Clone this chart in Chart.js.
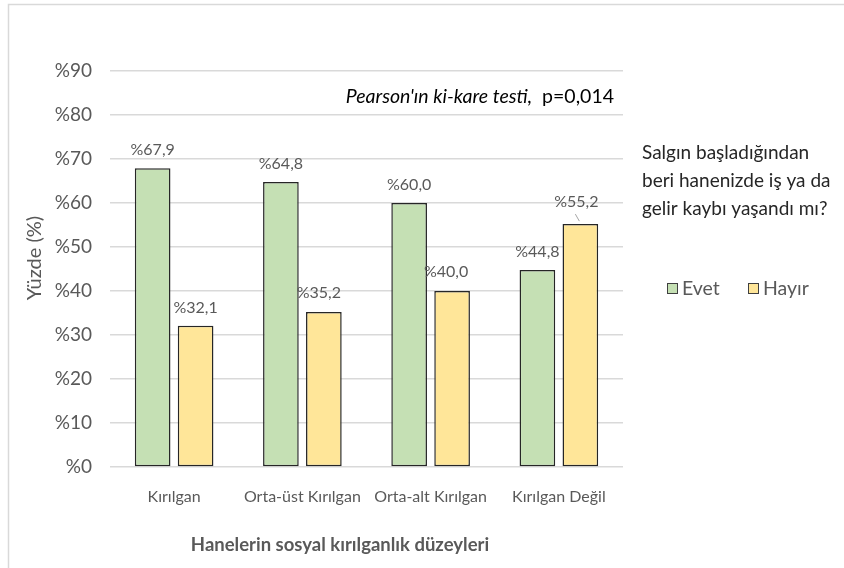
<!DOCTYPE html>
<html><head><meta charset="utf-8">
<script src="https://cdn.jsdelivr.net/npm/chart.js@4.4.1/dist/chart.umd.min.js"></script>
<style>html,body{margin:0;padding:0;background:#fff;}#wrap{width:844px;height:568px;position:relative;}</style>
</head><body><div id="wrap"><canvas id="c" width="844" height="568"></canvas></div>
<script>
const categories = ['Kırılgan', 'Orta-üst Kırılgan', 'Orta-alt Kırılgan', 'Kırılgan Değil'];
const seriesNames = ['Evet', 'Hayır'];
const evetValues = [67.9, 64.8, 60.0, 44.8];
const hayirValues = [32.1, 35.2, 40.0, 55.2];
const yMin = 0, yMax = 90, yStep = 10;
const yAxisTitle = 'Yüzde (%)';
const xAxisTitle = 'Hanelerin sosyal kırılganlık düzeyleri';
const legendTitle = ['Salgın başladığından', 'beri hanenizde iş ya da', 'gelir kaybı yaşandı mı?'];
const noteItalic = "Pearson'ın ki-kare testi,";
const noteText = 'p=0,014';

const FONT = "Lato, 'Open Sans', sans-serif";
const colors = ['#c5e0b4', '#ffe699'];
const fmt = v => '%' + v.toFixed(1).replace('.', ',');

const labelStyle = {
  dx: [[0, 0, 0, 0], [0, -5, -6, -4]],
  dy: [[18, 18, 18, 18], [18, 19, 19, 22]],
  leader: [[false, false, false, false], [false, false, false, true]]
};

const decor = {
  id: 'decor',
  beforeDraw(chart) {
    const ctx = chart.ctx;
    ctx.save();
    ctx.fillStyle = '#fff';
    ctx.fillRect(0, 0, chart.width, chart.height);
    ctx.strokeStyle = '#d9d9d9';
    ctx.lineWidth = 1.5;
    ctx.beginPath();
    ctx.moveTo(8.5, chart.height);
    ctx.lineTo(8.5, 4.5);
    ctx.lineTo(chart.width, 4.5);
    ctx.stroke();
    ctx.restore();
  },
  afterDraw(chart) {
    const ctx = chart.ctx;
    ctx.save();
    // data labels
    ctx.font = '16px ' + FONT;
    ctx.fillStyle = '#595959';
    ctx.textAlign = 'center';
    ctx.textBaseline = 'middle';
    chart.data.datasets.forEach((ds, d) => {
      const meta = chart.getDatasetMeta(d);
      meta.data.forEach((el, i) => {
        const x = el.x + labelStyle.dx[d][i];
        const y = el.y - labelStyle.dy[d][i];
        ctx.fillText(fmt(ds.data[i]), x, y);
        if (labelStyle.leader[d][i]) {
          ctx.save();
          ctx.strokeStyle = '#a6a6a6';
          ctx.lineWidth = 1;
          ctx.beginPath();
          ctx.moveTo(el.x - 1, el.y - 3);
          ctx.lineTo(el.x - 5, el.y - 10);
          ctx.stroke();
          ctx.restore();
        }
      });
    });
    // axis titles
    ctx.fillStyle = '#595959';
    ctx.font = '20px ' + FONT;
    ctx.save();
    ctx.translate(35, 258);
    ctx.rotate(-Math.PI / 2);
    ctx.fillText(yAxisTitle, 0, 0);
    ctx.restore();
    ctx.font = 'bold 18.5px ' + FONT;
    ctx.fillText(xAxisTitle, 340, 545);
    // note
    ctx.fillStyle = '#000';
    ctx.textAlign = 'right';
    ctx.font = '19.5px ' + FONT;
    const w2 = ctx.measureText('  ' + noteText).width;
    ctx.fillText('  ' + noteText, 614, 97);
    ctx.font = 'italic 19.5px ' + FONT;
    ctx.fillText(noteItalic, 614 - w2, 97);
    // legend
    ctx.textAlign = 'left';
    ctx.fillStyle = '#262626';
    ctx.font = '19px ' + FONT;
    legendTitle.forEach((t, k) => ctx.fillText(t, 642, 153 + k * 28));
    const lx = [667, 748];
    ctx.font = '19.5px ' + FONT;
    seriesNames.forEach((n, k) => {
      ctx.fillStyle = colors[k];
      ctx.fillRect(lx[k], 283, 10, 10);
      ctx.strokeStyle = '#404040';
      ctx.lineWidth = 1;
      ctx.strokeRect(lx[k] + 0.5, 283.5, 10, 10);
      ctx.fillStyle = '#595959';
      ctx.fillText(n, lx[k] + 15, 289);
    });
    ctx.restore();
  }
};

new Chart(document.getElementById('c'), {
  type: 'bar',
  data: {
    labels: categories,
    datasets: [
      { label: seriesNames[0], data: evetValues, backgroundColor: colors[0], borderColor: '#262626', borderWidth: 1.5, borderSkipped: false },
      { label: seriesNames[1], data: hayirValues, backgroundColor: colors[1], borderColor: '#262626', borderWidth: 1.5, borderSkipped: false }
    ]
  },
  options: {
    responsive: false,
    animation: false,
    devicePixelRatio: 1,
    barPercentage: 0.83,
    categoryPercentage: 0.67,
    layout: { padding: { top: 71, right: 221, left: 0, bottom: 0 } },
    plugins: { legend: { display: false }, tooltip: { enabled: false } },
    scales: {
      x: {
        grid: { display: false, drawTicks: false },
        border: { display: false },
        ticks: { color: '#595959', font: { family: FONT, size: 16 }, padding: 20, maxRotation: 0, autoSkip: false },
        afterFit(s) { s.height = 101; }
      },
      y: {
        min: yMin, max: yMax,
        grid: { color: '#d9d9d9', lineWidth: 1.5, drawTicks: false },
        border: { display: false },
        ticks: { stepSize: yStep, color: '#595959', font: { family: FONT, size: 19 }, padding: 18, callback: v => '%' + v },
        afterFit(s) { s.width = 110; }
      }
    }
  },
  plugins: [decor]
});
</script></body></html>
